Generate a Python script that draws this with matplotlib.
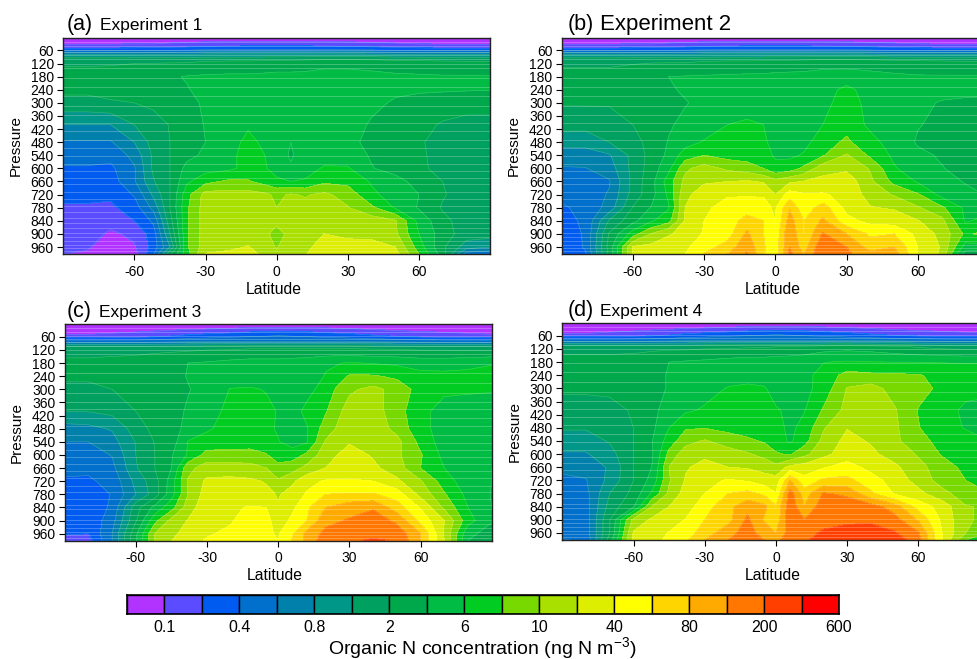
import numpy as np
import matplotlib
matplotlib.use('Agg')
import matplotlib.pyplot as plt

plt.rcParams['font.family'] = ['Liberation Sans', 'DejaVu Sans']
plt.rcParams['mathtext.fontset'] = 'custom'
plt.rcParams['mathtext.rm'] = 'Liberation Sans'
plt.rcParams['mathtext.default'] = 'regular'
plt.rcParams['axes.unicode_minus'] = False

W, H = 977, 659

lats = [-90, -80, -70, -60, -52, -45, -38, -30, -20, -12, -5, 0, 6, 12, 20, 30, 40, 50, 60, 70, 80, 90]
pressures = [5, 30, 55, 80, 110, 180, 240, 300, 400, 480, 540, 600, 660, 720, 780, 840, 900, 960, 992]

colors = ['#B233FF', '#5B4DFF', '#005CF0', '#0070CC', '#0080AA', '#009688', '#00A060', '#00A84C', '#00BC44',
          '#00CC22', '#77D900', '#AAE000', '#DDEE00', '#FFFF00', '#FFD500', '#FFAA00', '#FF7700', '#FF3F00', '#FF0000']
bar_labels = ['0.1', '0.4', '0.8', '2', '6', '10', '40', '80', '200', '600']
lat_ticks = [-60, -30, 0, 30, 60]
p_ticks = [60, 120, 180, 240, 300, 360, 420, 480, 540, 600, 660, 720, 780, 840, 900, 960]

# thin pale lines, the model levels
model_levels = [22, 40, 57, 68, 82, 100, 120, 141, 184, 227, 270, 316, 357, 392, 430, 469, 507,
                545, 579, 611, 642, 672, 706, 740, 770, 801, 828, 848, 874, 897, 916, 934, 951, 966, 978]

# values are positions on the colour bar (step 0 = first box), rows by pressure, columns by latitude
exp1 = [
    [.5, .5, .5, .5, .5, .5, .5, .5, .5, .5, .5, .5, .5, .5, .5, .5, .5, .5, .5, .5, .5, .5],
    [.95, .95, .95, 1, 1, 1.1, 1.2, 1.3, 1.4, 1.4, 1.4, 1.4, 1.4, 1.4, 1.4, 1.3, 1.2, 1.1, 1, .95, .95, .95],
    [2.3, 2.3, 2.3, 2.4, 2.5, 2.5, 2.6, 2.8, 2.9, 3, 3, 3, 3, 3, 2.9, 2.8, 2.7, 2.5, 2.4, 2.3, 2.3, 2.3],
    [5.3, 5.3, 5.3, 5.3, 5.3, 5.3, 5.3, 5.4, 5.4, 5.4, 5.4, 5.4, 5.4, 5.4, 5.4, 5.4, 5.4, 5.3, 5.3, 5.3, 5.3, 5.3],
    [6.8, 6.8, 6.8, 6.9, 6.9, 6.9, 6.9, 7, 7.1, 7.1, 7.2, 7.3, 7.3, 7.4, 7.6, 7.6, 7.5, 7.3, 7.2, 7.1, 7, 7],
    [7.4, 7.4, 7.5, 7.6, 7.7, 7.9, 8.05, 8.15, 8.2, 8.2, 8.25, 8.3, 8.3, 8.3, 8.4, 8.4, 8.3, 8.2, 8.15, 8.1, 8.1, 8.05],
    [7.2, 7.2, 7.3, 7.4, 7.6, 7.8, 7.95, 8.2, 8.3, 8.3, 8.3, 8.3, 8.3, 8.3, 8.35, 8.35, 8.3, 8.15, 8.15, 8.1, 8.05, 8.02],
    [6.7, 6.7, 6.9, 7, 7.2, 7.5, 7.8, 8.1, 8.3, 8.3, 8.3, 8.3, 8.3, 8.3, 8.3, 8.3, 8.2, 7.9, 7.6, 7.5, 7.5, 7.5],
    [5, 5, 5, 6, 6.6, 7.05, 7.6, 8.05, 8.3, 8.8, 8.4, 8.3, 8.2, 8.3, 8.4, 8.4, 7.9, 7.5, 7.3, 6.9, 6.6, 6.6],
    [3.9, 3.9, 3.9, 5, 6.4, 7, 7.6, 8, 8.4, 9.4, 8.7, 8.3, 8, 8.3, 8.5, 8.4, 7.6, 7.3, 7.1, 6.7, 6.5, 6.5],
    [3.4, 3.4, 3.3, 4.3, 6.2, 7, 7.7, 8.2, 8.6, 9.6, 9, 8.4, 7.9, 8.4, 8.6, 8.5, 7.9, 7.5, 7.1, 6.8, 6.5, 6.5],
    [2.9, 2.9, 2.8, 3.9, 6.2, 7, 8.3, 8.6, 8.8, 9.3, 9.1, 8.6, 8.1, 8.6, 9.1, 9.1, 8.05, 7.7, 7.2, 6.7, 6.5, 6.5],
    [2.5, 2.5, 2.5, 3.9, 5.9, 7, 8.8, 9.7, 10.2, 10.1, 9.6, 9.2, 9, 9.1, 9.8, 9.7, 8.9, 8.3, 7.7, 7, 6.5, 6.5],
    [2.2, 2.2, 2.2, 3.1, 5.2, 7, 9.6, 11.4, 11.4, 11.4, 11.2, 10.8, 11.1, 10.9, 11.2, 10.6, 9.2, 8.6, 8, 7.1, 6.5, 6.5],
    [1.9, 1.9, 1.8, 2.5, 4.3, 7, 9.8, 11.5, 11.5, 11.5, 11.3, 11, 11.4, 11.3, 11.5, 11.05, 10.2, 8.9, 7.9, 6.9, 6.5, 6.5],
    [1.6, 1.6, 1.3, 2, 3.2, 6.6, 9.8, 11.5, 11.5, 11.5, 11.4, 11.3, 11.5, 11.5, 11.6, 11.6, 11.5, 11.1, 8.7, 7.3, 6.5, 6.5],
    [1.4, 1.4, .85, 1.2, 2.5, 6, 9.8, 11.5, 11.5, 11.5, 11.3, 10.5, 11.4, 11.5, 12, 11.7, 11.6, 11.2, 9, 7.5, 6.5, 6.5],
    [1.2, 1.1, .6, .9, 2.4, 5, 9.8, 11.6, 11.8, 12.05, 11.5, 10.9, 11.8, 11.7, 12.5, 12.5, 12.5, 12, 9.5, 7.2, 5.5, 5],
    [1, .9, .5, .6, 2.8, 6.8, 9.5, 12.05, 12.2, 12.3, 11.8, 11.4, 12, 11.9, 12.9, 12.9, 12.8, 12.4, 10, 7.5, 3.5, 3.2],
]
exp2 = [
    [.5, .5, .5, .5, .5, .5, .5, .5, .5, .5, .5, .5, .5, .5, .5, .5, .5, .5, .5, .5, .5, .5],
    [.95, .95, .95, 1, 1, 1.1, 1.2, 1.3, 1.4, 1.4, 1.4, 1.4, 1.4, 1.4, 1.4, 1.3, 1.2, 1.1, 1, .95, .95, .95],
    [2.3, 2.3, 2.3, 2.4, 2.5, 2.5, 2.6, 2.8, 2.9, 3, 3, 3, 3, 3, 2.9, 2.8, 2.7, 2.5, 2.4, 2.3, 2.3, 2.3],
    [5.3, 5.3, 5.3, 5.3, 5.3, 5.3, 5.3, 5.4, 5.4, 5.4, 5.4, 5.4, 5.4, 5.4, 5.4, 5.4, 5.4, 5.3, 5.3, 5.3, 5.3, 5.3],
    [6.8, 6.8, 6.8, 6.9, 6.9, 6.9, 6.9, 7, 7.1, 7.1, 7.2, 7.3, 7.3, 7.4, 7.6, 7.6, 7.5, 7.3, 7.2, 7.1, 7, 7],
    [7.3, 7.3, 7.3, 7.4, 7.8, 8, 8.05, 8.1, 8.15, 8.2, 8.2, 8.25, 8.3, 8.3, 8.35, 8.4, 8.3, 8.2, 8.1, 8.1, 8.1, 8.1],
    [7.2, 7.2, 7.2, 7.3, 7.5, 7.9, 8.1, 8.2, 8.3, 8.3, 8.3, 8.3, 8.4, 8.4, 8.5, 9.3, 8.5, 8.3, 8.25, 8.2, 8.15, 8.1],
    [7.1, 7.1, 7.1, 7.3, 7.5, 7.7, 7.95, 8.2, 8.3, 8.4, 8.4, 8.4, 8.4, 8.5, 8.6, 9.6, 8.6, 8.3, 8.15, 7.95, 7.9, 7.9],
    [6.4, 6.4, 6.5, 7, 7.4, 7.9, 8.2, 8.4, 9, 9.2, 9, 8.5, 8.4, 8.5, 9, 9.6, 8.8, 8.3, 8.05, 7.8, 7.7, 7.7],
    [5.3, 5.3, 6, 6.6, 7.4, 8.05, 8.6, 9.1, 9.5, 9.6, 9.2, 8.6, 8.5, 8.7, 9.5, 10.2, 9.3, 8.6, 7.9, 7.7, 7.6, 7.6],
    [4.6, 4.6, 4.9, 6.3, 7.4, 8.2, 9.5, 10, 9.6, 9.5, 9.3, 8.9, 8.8, 9.1, 9.9, 11.1, 9.8, 8.8, 8.2, 7.9, 7.7, 7.7],
    [3.9, 3.95, 4.5, 6.3, 7.5, 8.7, 10.8, 11.4, 10.8, 10.5, 10, 9.2, 9.5, 10.2, 11.6, 11.8, 10.9, 9.1, 8.4, 8.05, 7.7, 7.7],
    [3.5, 3.5, 3.9, 6.3, 7.7, 9.5, 11.3, 11.9, 12, 12.1, 11.9, 11.3, 11.8, 12.05, 12.3, 12.6, 11.2, 9.7, 8.9, 8.3, 7.95, 7.9],
    [3.2, 3.4, 4.1, 6.4, 7.7, 9.2, 11.8, 12.4, 12.9, 12.9, 12.95, 12, 13.5, 13.1, 13.1, 12.7, 11.6, 10.9, 10.1, 8.7, 8.2, 7.95],
    [2.9, 3.2, 4.4, 7.05, 8.1, 8.9, 12, 12.8, 13.4, 13.5, 13.2, 12.9, 14.9, 13.3, 14.5, 12.7, 12.05, 11.9, 11.1, 10.2, 8.8, 8.6],
    [2.7, 3.15, 6.1, 7.7, 8.9, 9.6, 12.1, 13, 13.5, 14.4, 14, 12.95, 15.5, 14, 15.2, 13.3, 12.7, 12.5, 12.05, 11.3, 8.9, 9.3],
    [2.5, 3.1, 7.1, 9.5, 11.1, 11.9, 12.3, 13.1, 13.6, 15.2, 14, 13.3, 15.9, 14, 16.1, 15, 13.8, 14, 12.7, 11.7, 9.8, 10.4],
    [2.3, 3.1, 7.4, 12.1, 12.3, 12.5, 12.8, 13.6, 14.4, 15.8, 14.1, 13.4, 16, 14.5, 16.9, 16, 14.6, 15, 13, 11.9, 8.6, 8.8],
    [2.2, 2.9, 7.3, 12.1, 12.5, 12.7, 13, 14.05, 15, 16.1, 14.1, 13.3, 16.3, 15, 16.9, 16.2, 15.3, 15.5, 13, 11.8, 7.5, 7],
]
exp3 = [
    [.3, .3, .3, .3, .3, .3, .3, .3, .3, .3, .3, .3, .3, .3, .3, .3, .3, .3, .3, .3, .3, .3],
    [.7, .7, .75, .8, .9, 1, 1.1, 1.2, 1.4, 1.6, 1.7, 1.8, 1.8, 1.7, 1.5, 1.3, 1.1, .95, .85, .8, .75, .7],
    [1.1, 1.1, 1.2, 1.4, 1.6, 1.9, 2.2, 2.4, 2.6, 2.8, 2.9, 3, 2.9, 2.8, 2.6, 2.4, 2.1, 1.8, 1.5, 1.3, 1.2, 1.1],
    [3.4, 3.4, 3.4, 3.4, 3.5, 3.6, 3.7, 3.8, 3.9, 3.9, 3.9, 3.9, 3.9, 3.9, 3.9, 3.8, 3.7, 3.6, 3.5, 3.4, 3.4, 3.4],
    [6.6, 6.6, 6.6, 6.6, 6.7, 6.7, 6.7, 6.8, 6.8, 6.9, 6.9, 6.9, 6.9, 6.9, 6.9, 6.9, 6.8, 6.8, 6.7, 6.7, 6.6, 6.6],
    [7.2, 7.2, 7.3, 7.4, 7.5, 7.7, 8, 8.1, 8.3, 8.4, 8.4, 8.4, 8.5, 8.6, 8.9, 9.05, 8.95, 8.8, 8.6, 8.6, 8.75, 8.95],
    [7.15, 7.15, 7.2, 7.4, 7.6, 7.7, 8.05, 8.2, 8.4, 8.5, 8.4, 8.4, 8.4, 8.5, 9.05, 10.1, 10.1, 9.8, 9.3, 9.25, 9.25, 9.25],
    [6.8, 6.8, 7, 7.4, 7.6, 7.8, 7.95, 8.3, 9.05, 9.1, 8.95, 8.6, 8.5, 8.6, 9.5, 10.8, 11.3, 10.6, 9.6, 9.2, 9.15, 9.1],
    [6, 6.05, 6.3, 7, 7.5, 7.7, 8.1, 8.7, 9.2, 9.3, 9.2, 8.95, 8.5, 9.3, 9.9, 11.5, 11.5, 10.4, 9.3, 8.6, 8.5, 8.4],
    [4.6, 4.7, 5.1, 6.5, 7.3, 7.6, 8.3, 8.9, 9.3, 9.3, 9.2, 8.9, 8.5, 8.9, 10.5, 11.7, 11.6, 10.7, 9.3, 8.6, 8.4, 8.3],
    [4, 4, 4.6, 6.05, 7.05, 7.5, 9.05, 9.3, 9.4, 9.4, 9.2, 9.05, 8.6, 8.9, 11.1, 11.9, 11.7, 11.3, 9.7, 8.5, 8.3, 8.3],
    [3.6, 3.6, 4.05, 6, 7, 7.9, 9.1, 10.4, 10.4, 10.5, 10.1, 9.2, 9.5, 10.2, 11.6, 12.4, 11.9, 11.2, 10.1, 8.7, 8.2, 8.2],
    [3.2, 3.2, 3.7, 5.9, 7, 8, 10.7, 11.5, 11.4, 11.3, 11, 10.5, 10.6, 11.3, 12, 12.5, 12.2, 11.5, 10, 9, 8.3, 8],
    [2.9, 2.85, 3.3, 5.3, 6.6, 8.5, 11.1, 12.2, 12.3, 12.2, 11.9, 11.1, 11.8, 12.7, 13.1, 13.1, 13, 12.2, 11.1, 9.5, 8.4, 8],
    [2.4, 2.5, 3.05, 5, 6.5, 8.6, 11, 12.5, 12.6, 12.5, 12.3, 11.9, 12.4, 13.1, 14, 14.1, 14.1, 13.5, 11.7, 10.1, 8.7, 7.95],
    [2.1, 2.2, 3.2, 6.6, 8.3, 9.6, 11.5, 12.7, 12.9, 13.05, 13, 12.1, 12.8, 13.8, 15, 15.6, 15.9, 14.5, 12.9, 10.8, 9, 8],
    [2.2, 2.2, 3.6, 6.9, 9.7, 11.3, 12.05, 12.6, 12.9, 13.5, 13.3, 12.5, 13.2, 14, 15.7, 16.1, 16.5, 15.8, 13.7, 12, 9.4, 8.1],
    [2.1, 2, 4, 7.8, 11, 11.8, 12.3, 12.9, 13.2, 13.4, 13.15, 12.9, 13.9, 15.3, 16.3, 16.7, 16.8, 16.6, 15.05, 11.9, 8.3, 7.5],
    [1.6, 1.6, 4, 7.9, 11, 12, 12.6, 13.1, 13.5, 13.7, 13.3, 13, 14.1, 15.3, 16.6, 16.9, 17.1, 16.95, 15, 12, 8, 7],
]
exp4 = [
    [.3, .3, .3, .3, .3, .3, .3, .3, .3, .3, .3, .3, .3, .3, .3, .3, .3, .3, .3, .3, .3, .3],
    [.7, .7, .75, .8, .9, 1, 1.1, 1.2, 1.4, 1.6, 1.7, 1.8, 1.8, 1.7, 1.5, 1.3, 1.1, .95, .85, .8, .75, .7],
    [1.1, 1.1, 1.2, 1.4, 1.6, 1.9, 2.2, 2.4, 2.6, 2.8, 2.9, 3, 2.9, 2.8, 2.6, 2.4, 2.1, 1.8, 1.5, 1.3, 1.2, 1.1],
    [3.4, 3.4, 3.4, 3.4, 3.5, 3.6, 3.7, 3.8, 3.9, 3.9, 3.9, 3.9, 3.9, 3.9, 3.9, 3.8, 3.7, 3.6, 3.5, 3.4, 3.4, 3.4],
    [6.6, 6.6, 6.6, 6.6, 6.7, 6.7, 6.7, 6.8, 6.8, 6.9, 6.9, 7, 7.1, 7.2, 7.5, 7.6, 7.5, 7.2, 6.9, 6.7, 6.6, 6.6],
    [7.4, 7.4, 7.4, 7.5, 7.7, 8, 8.1, 8.2, 8.4, 8.5, 8.5, 8.6, 8.6, 8.7, 8.97, 9.1, 9.02, 9, 8.98, 8.95, 8.9, 8.9],
    [7.3, 7.3, 7.3, 7.4, 7.6, 8.1, 8.3, 8.45, 8.7, 8.8, 8.75, 8.7, 8.7, 8.75, 9.3, 10.4, 10.2, 10.15, 10.05, 9.8, 9.7, 9.7],
    [7.2, 7.2, 7.2, 7.5, 7.8, 8.05, 8.4, 8.7, 9.05, 9.1, 9.05, 8.8, 8.6, 8.7, 9.4, 11.05, 11.4, 10.6, 10.3, 9.8, 9.3, 9.3],
    [6.5, 6.5, 6.7, 7.1, 7.8, 8.35, 8.85, 9.1, 9.3, 9.4, 9.3, 9.05, 8.9, 8.95, 10.1, 11.3, 11.7, 11.1, 9.95, 9.4, 8.8, 8.6],
    [6.1, 6.1, 6.4, 7, 7.8, 9, 9.9, 9.95, 9.7, 9.5, 9.3, 9.3, 8.8, 9.3, 10.9, 11.95, 11.7, 11.2, 10.05, 9.3, 8.95, 8.5],
    [5.5, 5.5, 6.1, 7, 8, 9.5, 10.6, 11.1, 10.5, 10.2, 9.9, 9.5, 8.85, 9.6, 11.3, 12.3, 11.9, 11.2, 10.4, 9.6, 9.3, 9],
    [4.9, 4.9, 5.6, 7, 7.95, 10.3, 11.6, 11.8, 11.5, 11.1, 10.7, 10.1, 9.9, 10.7, 11.7, 12.5, 12.2, 11.6, 10.9, 9.9, 9.4, 9.2],
    [4.2, 4.3, 5.15, 7, 8.05, 11, 11.9, 12.3, 12, 11.9, 11.6, 11.3, 12.3, 12.5, 12.9, 13.4, 12.7, 12.2, 11.3, 10.5, 9.7, 9.4],
    [3.8, 3.95, 5.3, 7, 8.4, 10.9, 12.1, 12.7, 13.1, 12.9, 12.5, 12.4, 15, 13.3, 14.2, 14.3, 13.4, 12.6, 11.6, 10.6, 10, 9.6],
    [3.6, 3.7, 6, 7.3, 9.2, 11.2, 12.4, 13, 14, 14.3, 13.8, 13.05, 16.5, 14.5, 16.1, 15.8, 14.2, 12.9, 12.3, 11.3, 10.5, 10],
    [3.5, 3.6, 6.4, 7.9, 11.1, 12, 12.5, 13.6, 14.7, 15.7, 15.3, 14.1, 16.7, 15.05, 16.6, 16.6, 16.5, 15.5, 13.6, 12.6, 11.05, 10.9],
    [3.4, 3.5, 7, 11.3, 12.2, 12.5, 13.05, 14, 14.7, 16.2, 14.9, 14.3, 16.9, 16.05, 16.5, 16.8, 16.8, 16.4, 14.9, 12.8, 11.1, 10.8],
    [3.4, 3.5, 7, 12.1, 12.6, 13.05, 13.5, 14.5, 15.6, 16.5, 15.5, 15, 16.5, 16.5, 17.2, 17.4, 17.5, 17.1, 16.1, 13, 11, 9.8],
    [2.9, 3.2, 7.5, 12.2, 12.7, 13.2, 13.8, 15, 16, 16.7, 16, 15.5, 17, 16.7, 17.8, 17.7, 17.8, 17.6, 16.4, 13, 10, 8.5],
]

# grid, letter, name, name size, axes box, letter x, name x, title baseline y (pixels)
panels = [
    (exp1, '(a)', 'Experiment 1', 12.5, (63.3, 490, 38, 254), 67, 100, 30),
    (exp2, '(b)', 'Experiment 2', 16, (561.7, 989, 38, 254), 568, 600, 30),
    (exp3, '(c)', 'Experiment 3', 12.5, (64.7, 491.7, 324.3, 540.7), 67, 99, 317),
    (exp4, '(d)', 'Experiment 4', 12.5, (562.3, 989.5, 323.3, 540), 568, 600, 316),
]

fig = plt.figure(figsize=(W / 100, H / 100), dpi=100)


def add_axes_px(x0, x1, y0, y1):
    return fig.add_axes([x0 / W, 1 - y1 / H, (x1 - x0) / W, (y1 - y0) / H])


levels = np.arange(0, 20)
for grid, letter, name, size, box, letter_x, name_x, title_y in panels:
    ax = add_axes_px(*box)
    vals = np.array(grid)
    ax.contourf(lats, pressures, vals, levels=levels, colors=colors)
    ax.contour(lats, pressures, vals, levels=levels[1:], colors='white', linewidths=0.5, alpha=0.2)
    ax.hlines(model_levels, -90, 90, colors='white', linewidth=0.7, alpha=0.25)
    ax.set_xlim(-90, 90)
    ax.set_ylim(992, 3)
    ax.set_xticks(lat_ticks)
    ax.set_yticks(p_ticks)
    ax.tick_params(labelsize=10, length=4.2, width=0.8, pad=2.5)
    ax.tick_params(axis='x', pad=3.5)
    ax.set_xlabel('Latitude', fontsize=11.3)
    ax.set_ylabel('Pressure', fontsize=11)
    ax.xaxis.set_label_coords(0.493, -0.128)
    ax.yaxis.set_label_coords(-0.096, 0.5)
    for s in ax.spines.values():
        s.set_linewidth(1.0)
        s.set_color('#222222')
    fig.text(letter_x / W, 1 - title_y / H, letter, fontsize=15.5, va='baseline', ha='left')
    fig.text(name_x / W, 1 - title_y / H, name, fontsize=size, va='baseline', ha='left')

# colour bar with labelled box edges
cax = add_axes_px(127, 839, 595, 614)
cax.bar(np.arange(len(colors)) + 0.5, 1, width=1, color=colors, edgecolor='black', linewidth=1.0)
cax.set_xlim(0, len(colors))
cax.set_ylim(0, 1)
cax.set_yticks([])
cax.set_xticks(np.arange(1, 20, 2))
cax.set_xticklabels(bar_labels, fontsize=11.5)
cax.tick_params(axis='x', length=0, pad=4)
for s in cax.spines.values():
    s.set_linewidth(1.2)
fig.text(482.5 / W, 1 - 654 / H, 'Organic N concentration (ng N m$^{-3}$)', fontsize=14, ha='center', va='baseline')

plt.savefig('out.png', dpi=100)
